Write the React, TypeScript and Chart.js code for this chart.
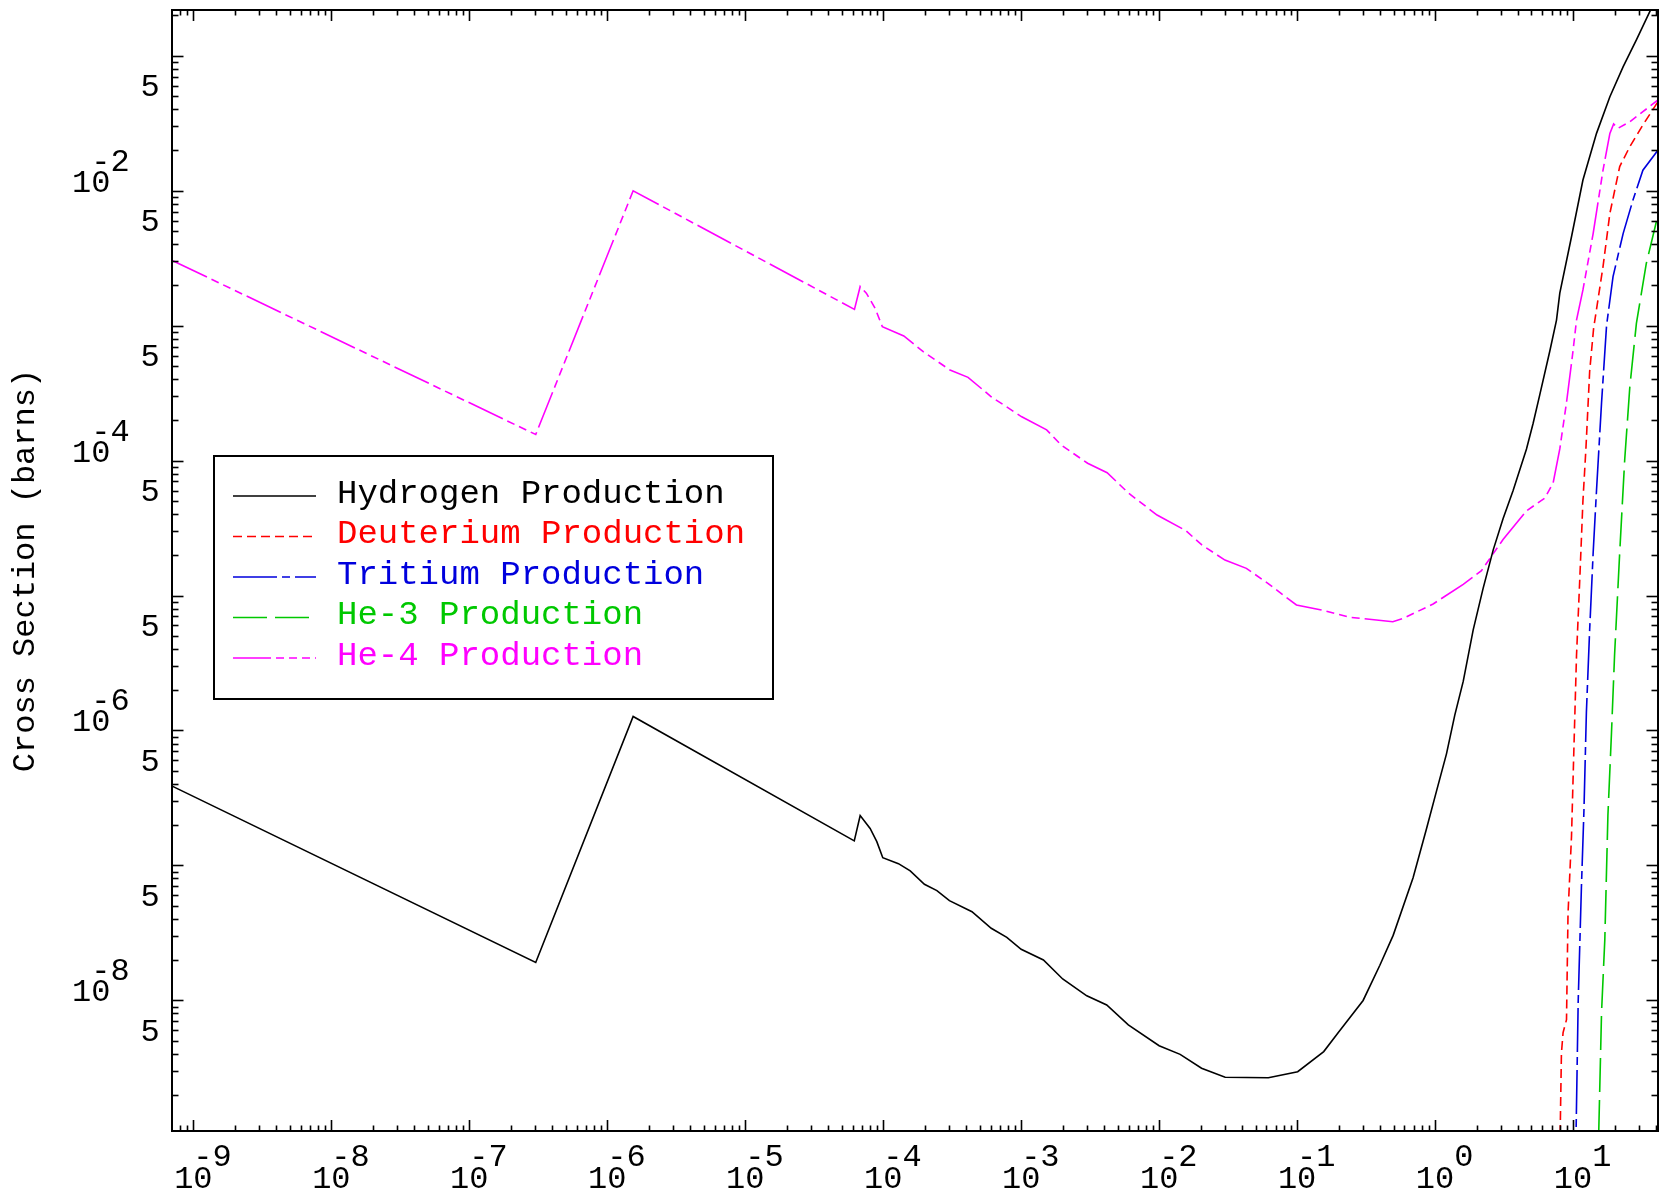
import React, { useEffect, useRef } from 'react';
import { Chart, registerables } from 'chart.js';

Chart.register(...registerables);

// ---------------- data (energy in MeV, cross section in barns) ----------------
const hydrogenEnergy = [7.08e-10, 3.03e-7, 1.54e-6, 6.17e-5, 6.81e-5, 8.04e-5, 8.99e-5, 9.93e-5, 1.29e-4, 1.57e-4, 1.99e-4, 2.45e-4, 3.02e-4, 4.40e-4, 6.07e-4, 7.87e-4, 1.00e-3, 1.45e-3, 2.00e-3, 2.99e-3, 4.17e-3, 5.98e-3, 1.00e-2, 1.42e-2, 2.03e-2, 3.01e-2, 6.19e-2, 0.101, 0.156, 0.199, 0.301, 0.398, 0.497, 0.693, 0.867, 1.03, 1.21, 1.39, 1.60, 1.89, 2.23, 2.64, 3.11, 3.68, 4.60, 5.14, 5.74, 6.79, 7.59, 8.02, 9.75, 11.8, 14.8, 18.5, 23.1, 28.8, 36.0, 41.3];
const hydrogenXs = [3.85e-7, 1.91e-8, 1.27e-6, 1.52e-7, 2.34e-7, 1.88e-7, 1.50e-7, 1.14e-7, 1.03e-7, 9.10e-8, 7.24e-8, 6.50e-8, 5.48e-8, 4.54e-8, 3.42e-8, 2.93e-8, 2.39e-8, 1.99e-8, 1.44e-8, 1.08e-8, 9.25e-9, 6.58e-9, 4.61e-9, 3.98e-9, 3.14e-9, 2.69e-9, 2.67e-9, 2.96e-9, 4.17e-9, 5.77e-9, 9.98e-9, 1.82e-8, 3.03e-8, 8.11e-8, 1.87e-7, 3.63e-7, 6.71e-7, 1.30e-6, 2.31e-6, 5.57e-6, 1.13e-5, 2.18e-5, 3.71e-5, 6.01e-5, 1.22e-4, 1.89e-4, 3.07e-4, 6.49e-4, 1.10e-3, 1.74e-3, 4.56e-3, 1.20e-2, 2.66e-2, 4.97e-2, 8.30e-2, 0.131, 0.212, 0.275];

const deuteriumEnergy = [7.98, 8.24, 8.47, 8.97, 9.20, 9.75, 10.1, 10.6, 11.2, 11.8, 12.4, 13.2, 14.1, 16.5, 18.5, 21.8, 25.8, 32.1, 41.3];
const deuteriumXs = [5.0e-10, 4.06e-9, 5.77e-9, 7.19e-9, 4.39e-8, 1.64e-7, 6.15e-7, 3.59e-6, 1.34e-5, 5.05e-5, 1.22e-4, 4.57e-4, 9.55e-4, 2.74e-3, 6.79e-3, 1.51e-2, 2.12e-2, 3.07e-2, 4.57e-2];

const tritiumEnergy = [10.4, 10.9, 11.5, 12.0, 12.5, 13.2, 14.0, 14.8, 16.1, 17.5, 19.5, 23.1, 27.2, 32.1, 41.3];
const tritiumXs = [5.0e-10, 9.79e-9, 6.81e-8, 2.55e-7, 1.36e-6, 5.57e-6, 2.09e-5, 6.01e-5, 2.69e-4, 1.00e-3, 2.31e-3, 4.83e-3, 8.53e-3, 1.42e-2, 2.00e-2];

const he3Energy = [15.1, 16.1, 17.0, 17.9, 19.0, 20.0, 21.8, 23.7, 25.8, 28.8, 34.0, 41.3];
const he3Xs = [5.0e-10, 8.22e-9, 2.82e-8, 2.34e-7, 9.57e-7, 3.59e-6, 2.09e-5, 1.02e-4, 3.51e-4, 1.04e-3, 2.90e-3, 6.61e-3];

const he4Energy = [7.08e-10, 3.03e-7, 1.54e-6, 6.19e-5, 6.81e-5, 7.55e-5, 8.75e-5, 9.86e-5, 1.41e-4, 1.95e-4, 3.05e-4, 4.12e-4, 6.07e-4, 1.01e-3, 1.53e-3, 1.94e-3, 3.03e-3, 4.20e-3, 6.01e-3, 9.66e-3, 1.56e-2, 2.04e-2, 3.00e-2, 4.29e-2, 6.14e-2, 9.89e-2, 0.150, 0.242, 0.494, 0.587, 0.968, 1.60, 2.17, 3.11, 4.60, 6.24, 7.18, 8.02, 8.97, 10.0, 10.6, 11.8, 14.0, 16.5, 18.5, 19.7, 21.2, 25.8, 32.1, 41.3];
const he4Xs = [3.03e-3, 1.56e-4, 9.98e-3, 1.32e-3, 1.95e-3, 1.74e-3, 1.34e-3, 9.82e-4, 8.38e-4, 6.41e-4, 4.69e-4, 4.14e-4, 2.97e-4, 2.11e-4, 1.69e-4, 1.31e-4, 9.55e-5, 8.13e-5, 5.73e-5, 3.95e-5, 3.03e-5, 2.37e-5, 1.83e-5, 1.59e-5, 1.23e-5, 8.51e-6, 7.82e-6, 6.90e-6, 6.40e-6, 6.76e-6, 8.65e-6, 1.21e-5, 1.53e-5, 2.60e-5, 4.24e-5, 5.27e-5, 6.85e-5, 1.22e-4, 2.69e-4, 6.49e-4, 1.10e-3, 1.84e-3, 4.83e-3, 1.42e-2, 2.66e-2, 3.12e-2, 2.90e-2, 3.24e-2, 3.85e-2, 4.70e-2];

const seriesLabels = ['Hydrogen Production', 'Deuterium Production', 'Tritium Production', 'He-3 Production', 'He-4 Production'];

// axis ranges and ticks
const xMin = 7.08e-10;
const xMax = 41.3;
const yMin = 1.076e-9;
const yMax = 0.2183;
const xMajorTicks = [1e-9, 1e-8, 1e-7, 1e-6, 1e-5, 1e-4, 1e-3, 1e-2, 1e-1, 1, 10];
const xTickExponents = ['-9', '-8', '-7', '-6', '-5', '-4', '-3', '-2', '-1', '0', '1'];
const yMajorTicks = [1e-9, 1e-8, 1e-7, 1e-6, 1e-5, 1e-4, 1e-3, 1e-2, 1e-1];
const minorMultipliers = [2, 3, 4, 5, 6, 7, 8, 9];
const yLabelValues = [5e-2, 1e-2, 5e-3, 5e-4, 1e-4, 5e-5, 5e-6, 1e-6, 5e-7, 5e-8, 1e-8, 5e-9];
const yLabelBases = ['5', '10', '5', '5', '10', '5', '5', '10', '5', '5', '10', '5'];
const yLabelExponents = ['', '-2', '', '', '-4', '', '', '-6', '', '', '-8', ''];
const yAxisTitle = 'Cross Section (barns)';

// ---------------- styling ----------------
const W = 1663;
const H = 1196;
const FONT = '"Liberation Mono", "DejaVu Sans Mono", monospace';
const colors = ['#000000', '#ff0000', '#0000dd', '#00c800', '#ff00ff'];
const dashes: number[][] = [[], [9, 5], [44, 5, 8, 5], [34, 8], [38, 5, 8, 5, 8, 5, 8, 5]];

const pts = (xs: number[], ys: number[]) => xs.map((x, i) => ({ x, y: ys[i] }));

const decorPlugin = {
  id: 'idlDecor',
  afterDraw(chart: any) {
    const { ctx, chartArea: a, scales } = chart;
    const xs = scales.x;
    const ys = scales.y;
    ctx.save();
    ctx.setLineDash([]);
    ctx.strokeStyle = '#000';

    const seg = (x1: number, y1: number, x2: number, y2: number) => {
      ctx.beginPath();
      ctx.moveTo(x1, y1);
      ctx.lineTo(x2, y2);
      ctx.stroke();
    };

    // ticks
    ctx.lineWidth = 1.6;
    const xDecades = [xMajorTicks[0] / 10, ...xMajorTicks];
    xDecades.forEach((d) => {
      [1, ...minorMultipliers].forEach((m) => {
        const v = d * m;
        if (v < xMin || v > xMax) return;
        const p = Math.round(xs.getPixelForValue(v)) + 0.5;
        const len = m === 1 ? 11 : 5.5;
        seg(p, a.bottom, p, a.bottom - len);
        seg(p, a.top, p, a.top + len);
      });
    });
    const yDecades = [yMajorTicks[0] / 10, ...yMajorTicks];
    yDecades.forEach((d) => {
      [1, ...minorMultipliers].forEach((m) => {
        const v = d * m;
        if (v < yMin || v > yMax) return;
        const p = Math.round(ys.getPixelForValue(v)) + 0.5;
        const len = m === 1 ? 11.5 : 6.5;
        seg(a.left, p, a.left + len, p);
        seg(a.right, p, a.right - len, p);
      });
    });

    // frame
    ctx.lineWidth = 2;
    ctx.strokeRect(a.left, a.top, a.right - a.left, a.bottom - a.top);

    // x tick labels
    ctx.fillStyle = '#000';
    ctx.font = `32px ${FONT}`;
    ctx.textAlign = 'left';
    ctx.textBaseline = 'alphabetic';
    const adv = ctx.measureText('0').width;
    xMajorTicks.forEach((v, i) => {
      const p = xs.getPixelForValue(v);
      const x0 = p - adv;
      ctx.fillText('10', x0, a.bottom + 57);
      const e = xTickExponents[i];
      const ex = x0 + 2 * adv - (e.startsWith('-') ? adv : 0);
      ctx.fillText(e, ex, a.bottom + 35);
    });

    // y tick labels
    yLabelValues.forEach((v, i) => {
      const p = ys.getPixelForValue(v);
      if (yLabelBases[i] === '5') {
        ctx.fillText('5', a.left - 31.5, p);
      } else {
        const x0 = a.left - 100;
        ctx.fillText('10', x0, p + 1);
        const e = yLabelExponents[i];
        const ex = x0 + 2 * adv - (e.startsWith('-') ? adv : 0);
        ctx.fillText(e, ex, p + 1 - 21);
      }
    });

    // y axis title
    ctx.save();
    ctx.translate(26, (a.top + a.bottom) / 2);
    ctx.rotate(-Math.PI / 2);
    ctx.textAlign = 'center';
    ctx.textBaseline = 'middle';
    ctx.font = `32px ${FONT}`;
    ctx.fillText(yAxisTitle, 0, 0);
    ctx.restore();

    // legend
    const lx = a.left + 42;
    const ly = a.top + 446;
    ctx.fillStyle = '#fff';
    ctx.fillRect(lx, ly, 559, 243);
    ctx.lineWidth = 2;
    ctx.strokeStyle = '#000';
    ctx.strokeRect(lx, ly, 559, 243);
    ctx.font = `34px ${FONT}`;
    chart.data.datasets.forEach((ds: any, i: number) => {
      const y = ly + 40 + i * 40.5;
      ctx.strokeStyle = ds.borderColor;
      ctx.lineWidth = 1.6;
      ctx.setLineDash(ds.borderDash || []);
      seg(lx + 19, y, lx + 102, y);
      ctx.setLineDash([]);
      ctx.fillStyle = ds.borderColor;
      ctx.fillText(ds.label, lx + 123, y + 6.5);
    });

    ctx.restore();
  },
};

export default function App() {
  const ref = useRef<HTMLCanvasElement>(null);

  useEffect(() => {
    document.body.style.margin = '0';
    document.body.style.overflow = 'hidden';
    const series = [
      pts(hydrogenEnergy, hydrogenXs),
      pts(deuteriumEnergy, deuteriumXs),
      pts(tritiumEnergy, tritiumXs),
      pts(he3Energy, he3Xs),
      pts(he4Energy, he4Xs),
    ];
    const chart = new Chart(ref.current as HTMLCanvasElement, {
      type: 'line',
      data: {
        datasets: series.map((d, i) => ({
          label: seriesLabels[i],
          data: d,
          borderColor: colors[i],
          backgroundColor: colors[i],
          borderDash: dashes[i],
          borderWidth: 1.6,
          pointRadius: 0,
          pointHoverRadius: 0,
          tension: 0,
          fill: false,
        })),
      },
      options: {
        animation: false,
        responsive: false,
        devicePixelRatio: 1,
        layout: { padding: { left: 0, right: 5, top: 10, bottom: 0 } },
        plugins: {
          legend: { display: false },
          tooltip: { enabled: false },
        },
        events: [],
        scales: {
          x: {
            type: 'logarithmic',
            min: xMin,
            max: xMax,
            grid: { display: false },
            border: { display: false },
            ticks: { display: false },
            afterFit: (s: any) => {
              s.height = 65;
            },
          },
          y: {
            type: 'logarithmic',
            min: yMin,
            max: yMax,
            grid: { display: false },
            border: { display: false },
            ticks: { display: false },
            afterFit: (s: any) => {
              s.width = 172;
            },
          },
        },
      },
      plugins: [decorPlugin],
    } as any);
    return () => chart.destroy();
  }, []);

  return (
    <div style={{ width: W, height: H, position: 'relative', background: '#fff' }}>
      <canvas ref={ref} width={W} height={H} style={{ display: 'block', width: W, height: H }} />
    </div>
  );
}
